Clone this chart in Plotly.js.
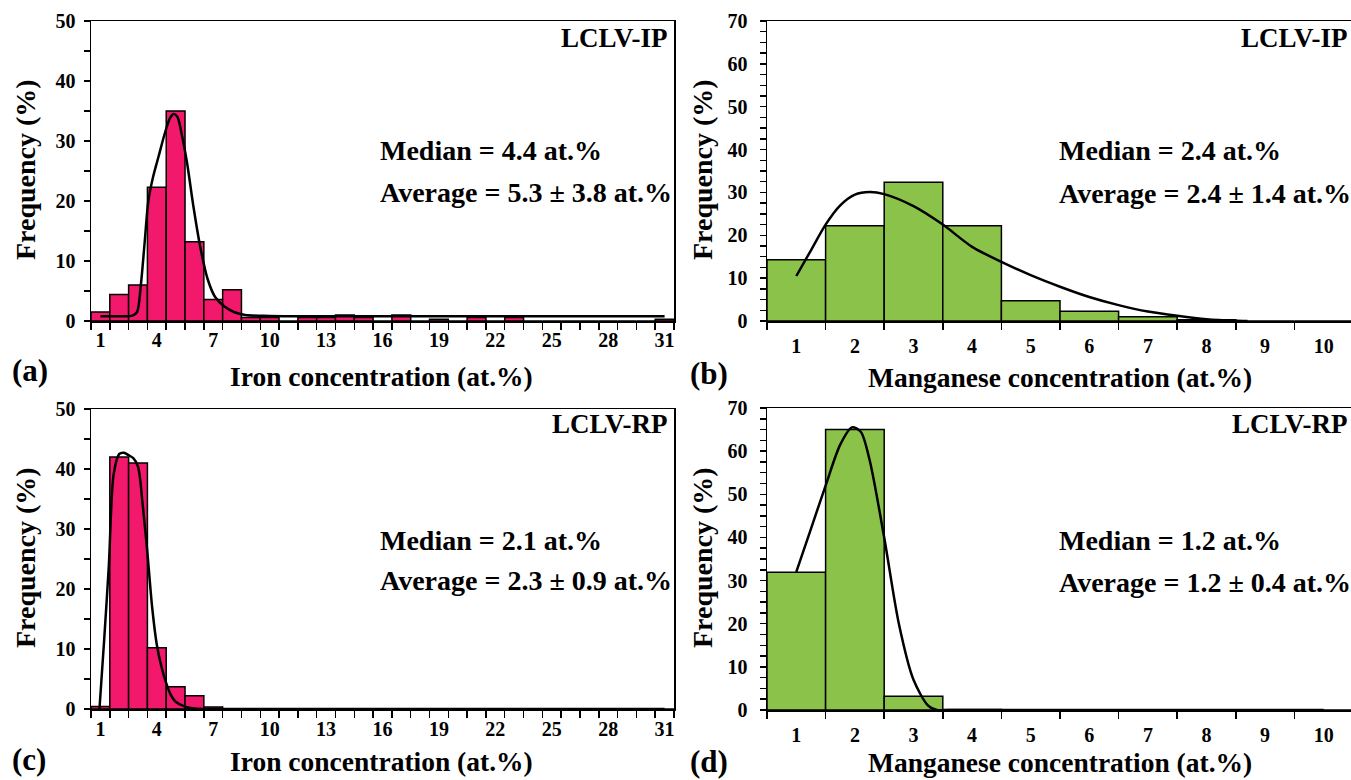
<!DOCTYPE html>
<html>
<head>
<meta charset="utf-8">
<script src="https://cdn.plot.ly/plotly-3.0.1.min.js"></script>
<style>html,body{margin:0;padding:0;background:#fff;}#chart{width:1351px;height:780px;}</style>
</head>
<body>
<div id="chart"></div>
<script>
// ---- Data ----
const feBins = Array.from({length: 31}, (_, i) => i + 1);
const feTickVals = [1, 4, 7, 10, 13, 16, 19, 22, 25, 28, 31];
const mnBins = [1, 2, 3, 4, 5, 6, 7, 8, 9, 10];

const feIP = [1.5, 4.4, 6.0, 22.3, 35.0, 13.2, 3.6, 5.2, 0.6, 0.6, 0, 0.6, 0.6, 1.0, 0.6, 0, 1.0, 0, 0.3, 0, 0.6, 0, 0.6, 0, 0, 0, 0, 0, 0, 0, 0.3];
const feIPfitX = [1, 2, 2.7, 2.95, 3.15, 3.35, 3.55, 3.8, 4.1, 4.4, 4.7, 4.9, 5.1, 5.3, 5.6, 5.95, 6.3, 6.7, 7.1, 7.6, 8.1, 8.7, 10, 14, 20, 26, 31];
const feIPfitY = [0.8, 0.8, 0.9, 1.5, 6, 13, 20, 24, 27.5, 31, 33.8, 34.5, 34, 31.5, 26.5, 19, 12.5, 7, 4, 2.4, 1.5, 1.0, 0.85, 0.8, 0.8, 0.8, 0.8];

const feRP = [0.4, 42, 41, 10.2, 3.7, 2.2, 0.35, 0, 0, 0, 0, 0, 0, 0, 0, 0, 0, 0, 0, 0, 0, 0, 0, 0, 0, 0, 0, 0, 0, 0, 0];
const feRPfitX = [0.95, 1.2, 1.45, 1.7, 2.0, 2.25, 2.5, 2.75, 3.0, 3.25, 3.5, 3.75, 4.0, 4.25, 4.5, 4.75, 5.0, 5.5, 6.0, 7, 31];
const feRPfitY = [0, 11.5, 24, 39, 42.5, 42.7, 42.3, 41.8, 40.4, 34, 26, 17, 10.7, 7, 4.3, 2.3, 1.2, 0.4, 0.1, 0, 0];

const mnIP = [14.3, 22.2, 32.4, 22.2, 4.7, 2.3, 1.0, 0.3, 0, 0];
const mnIPfitX = [1, 1.25, 1.5, 1.75, 2.0, 2.25, 2.5, 3.0, 3.5, 4.0, 4.5, 5.0, 5.5, 6.0, 6.5, 7.0, 7.5, 8.0, 8.5, 8.7];
const mnIPfitY = [10.5, 16.5, 22.5, 27, 29.5, 30.1, 29.6, 26.8, 22.5, 17.3, 13.8, 10.7, 8, 5.6, 3.7, 2.2, 1.2, 0.4, 0.05, 0];

const mnRP = [31.9, 65.0, 3.2, 0.1, 0, 0, 0, 0, 0, 0];
const mnRPfitX = [1, 1.25, 1.5, 1.75, 1.95, 2.1, 2.25, 2.5, 2.75, 3.0, 3.25, 3.4, 3.6, 5, 10];
const mnRPfitY = [32, 42, 52, 61.5, 65.5, 64.5, 58, 40, 20, 7, 1, 0, 0, 0, 0];

const stats = {
  a: ['Median = 4.4 at.%', 'Average = 5.3 ± 3.8 at.%', 'LCLV-IP', '(a)', 'Iron concentration (at.%)'],
  b: ['Median = 2.4 at.%', 'Average = 2.4 ± 1.4 at.%', 'LCLV-IP', '(b)', 'Manganese concentration (at.%)'],
  c: ['Median = 2.1 at.%', 'Average = 2.3 ± 0.9 at.%', 'LCLV-RP', '(c)', 'Iron concentration (at.%)'],
  d: ['Median = 1.2 at.%', 'Average = 1.2 ± 0.4 at.%', 'LCLV-RP', '(d)', 'Manganese concentration (at.%)']
};

// ---- Styles ----
const W = 1351, H = 780;
const FAM = '"Liberation Serif", "Times New Roman", serif';
const PINK = '#F2196C';
const GREEN = '#8BC34A';
const px = v => v / W;
const py = v => 1 - v / H;

function bar(x, y, color, xa, ya) {
  return {type: 'bar', x: x, y: y, width: 1, xaxis: xa, yaxis: ya,
    marker: {color: color, line: {color: '#000', width: 1.5}}, hoverinfo: 'x+y'};
}
function fit(x, y, xa, ya) {
  return {type: 'scatter', mode: 'lines', x: x, y: y, xaxis: xa, yaxis: ya,
    line: {color: '#000', width: 2.5, shape: 'spline', smoothing: 0.8}, hoverinfo: 'skip'};
}

const traces = [
  bar(feBins, feIP, PINK, 'x', 'y'), fit(feIPfitX, feIPfitY, 'x', 'y'),
  bar(mnBins, mnIP, GREEN, 'x2', 'y2'), fit(mnIPfitX, mnIPfitY, 'x2', 'y2'),
  bar(feBins, feRP, PINK, 'x3', 'y3'), fit(feRPfitX, feRPfitY, 'x3', 'y3'),
  bar(mnBins, mnRP, GREEN, 'x4', 'y4'), fit(mnRPfitX, mnRPfitY, 'x4', 'y4')
];

const tickFont = {family: FAM, size: 20, color: '#000', weight: 'bold'};

function xAxis(domain, anchor, range, tickvals, standoff) {
  return {domain: domain, anchor: anchor, range: range, tickmode: 'array', tickvals: tickvals,
    ticks: '', showline: true, linecolor: '#000', linewidth: 1.5, mirror: true,
    showgrid: false, zeroline: false, tickfont: tickFont, ticklabelstandoff: standoff,
    minor: {tickmode: 'linear', tick0: 0.5, dtick: 1, ticks: 'outside', ticklen: 7, tickwidth: 1.5, tickcolor: '#000', showgrid: false},
    fixedrange: true};
}
function yAxis(domain, anchor, range, minorD, standoff) {
  return {domain: domain, anchor: anchor, range: range, dtick: 10, tick0: 0,
    ticks: 'outside', ticklen: 6, tickwidth: 1.5, tickcolor: '#000',
    showline: true, linecolor: '#000', linewidth: 1.5, mirror: true,
    showgrid: false, zeroline: false, tickfont: tickFont, ticklabelstandoff: standoff,
    minor: {tickmode: 'linear', tick0: 0, dtick: minorD, ticks: 'outside', ticklen: 6, tickwidth: 1.5, tickcolor: '#000', showgrid: false},
    fixedrange: true};
}

const layout = {
  width: W, height: H,
  margin: {l: 0, r: 0, t: 0, b: 0},
  paper_bgcolor: '#fff', plot_bgcolor: '#fff',
  showlegend: false, bargap: 0,
  xaxis: xAxis([px(91), px(674)], 'y', [0.5, 31.5], feTickVals, 0),
  yaxis: yAxis([py(321), py(21)], 'x', [0, 50], 5, 4),
  xaxis2: xAxis([px(767), 1], 'y2', [0.5, 10.466], mnBins, 6),
  yaxis2: yAxis([py(321), py(21)], 'x2', [0, 70], 2.5, 8),
  xaxis3: xAxis([px(91), px(674)], 'y3', [0.5, 31.5], feTickVals, 1),
  yaxis3: yAxis([py(709), py(409)], 'x3', [0, 50], 5, 4),
  xaxis4: xAxis([px(767), 1], 'y4', [0.5, 10.466], mnBins, 6),
  yaxis4: yAxis([py(710), py(408)], 'x4', [0, 70], 2.5, 8),
  annotations: []
};

function txt(text, x, y, size, xanchor, angle) {
  layout.annotations.push({text: text, x: px(x), y: py(y), xref: 'paper', yref: 'paper',
    xanchor: xanchor, yanchor: 'middle', showarrow: false, textangle: angle || 0,
    font: {family: FAM, size: size, color: '#000', weight: 'bold'}});
}

const pos = {
  a: {statX: 378, medY: 150, avgY: 192, tagX: 670, tagY: 38, labX: 10, labY: 370, titX: 381, titY: 376, yTitX: 25, yTitY: 170},
  b: {statX: 1057, medY: 151, avgY: 193, tagX: 1350, tagY: 38, labX: 688, labY: 373, titX: 1060, titY: 377, yTitX: 702, yTitY: 170},
  c: {statX: 378, medY: 540, avgY: 580, tagX: 670, tagY: 424, labX: 10, labY: 759, titX: 381, titY: 761, yTitX: 25, yTitY: 558},
  d: {statX: 1057, medY: 540, avgY: 582, tagX: 1350, tagY: 424, labX: 688, labY: 761, titX: 1060, titY: 762, yTitX: 702, yTitY: 558}
};

Object.keys(stats).forEach(k => {
  const s = stats[k], p = pos[k];
  txt(s[0], p.statX, p.medY, 28, 'left');
  txt(s[1], p.statX, p.avgY, 28, 'left');
  txt(s[2], p.tagX, p.tagY, 27, 'right');
  txt(s[3], p.labX, p.labY, 31, 'left');
  txt(s[4], p.titX, p.titY, 27.5, 'center');
  txt('Frequency (%)', p.yTitX, p.yTitY, 28, 'center', -90);
});

Plotly.newPlot('chart', traces, layout, {displayModeBar: false, staticPlot: true});
</script>
</body>
</html>
